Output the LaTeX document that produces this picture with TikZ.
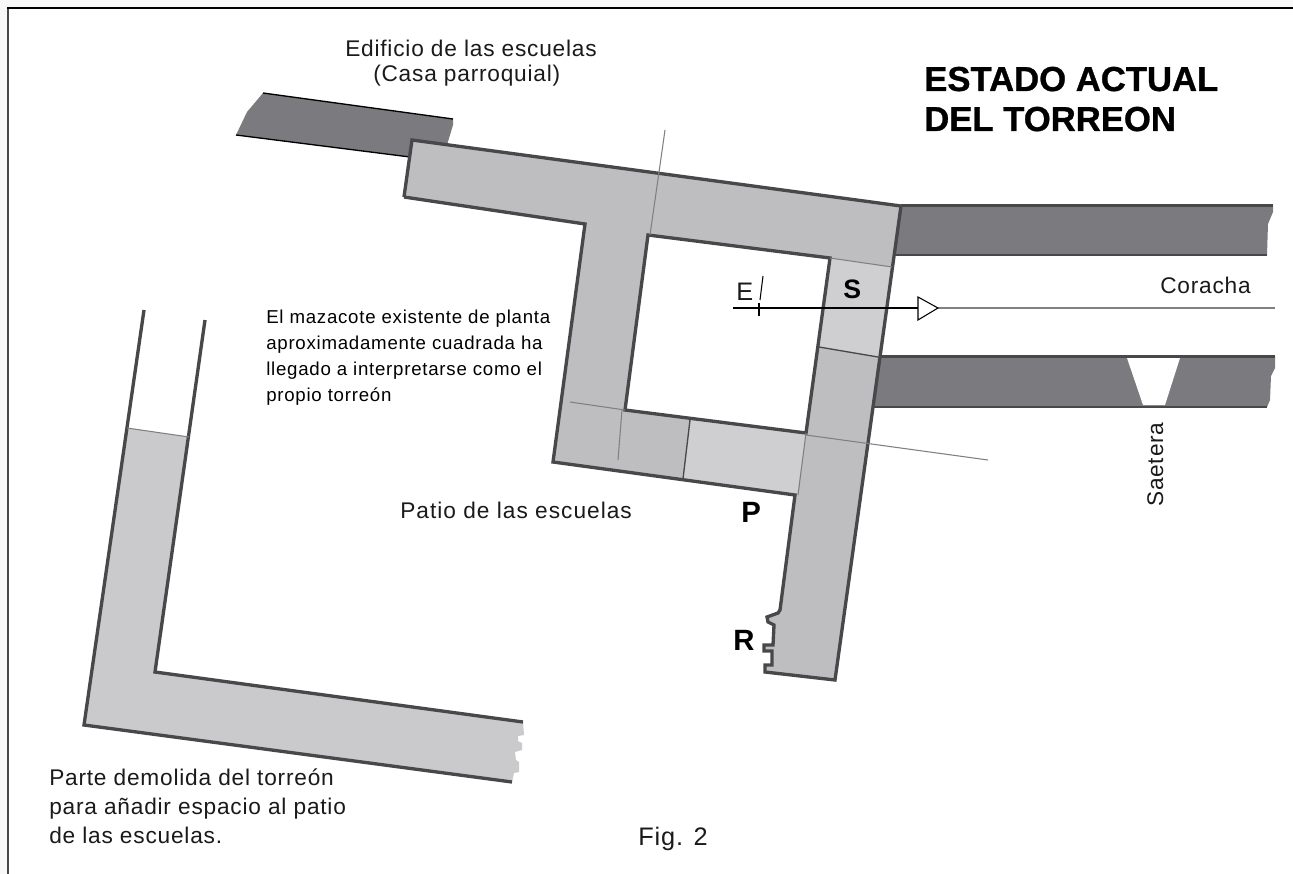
\documentclass[tikz,border=0pt]{standalone}
\usepackage{fontspec}
\setmainfont{Liberation Sans}
\newfontfamily\labelfont[LetterSpace=3.5]{Liberation Sans}
\newfontfamily\notefont[LetterSpace=4]{Liberation Sans}
\definecolor{wallgray}{HTML}{BEBEC1}
\definecolor{lightgray2}{HTML}{CFCFD1}
\definecolor{lgray}{HTML}{CACACC}
\definecolor{darkwall}{HTML}{7B7A7E}
\definecolor{edge}{HTML}{48484A}
\definecolor{thin}{HTML}{808082}
\definecolor{txt}{HTML}{1A1A1A}
\definecolor{margin}{HTML}{F8F8F8}
\tikzset{
  thick edge/.style={draw=edge,line width=2.5pt,line join=miter},
  thin rule/.style={draw=thin,line width=0.8pt},
  label text/.style={anchor=base west,inner sep=0pt,text=txt,font=\labelfont\fontsize{17}{21.75}\selectfont,align=left},
  small text/.style={anchor=base west,inner sep=0pt,text=black,font=\notefont\fontsize{14}{19.3}\selectfont,align=left},
  letter/.style={anchor=base west,inner sep=0pt,text=black,font=\bfseries\fontsize{20}{22}\selectfont},
}
\begin{document}
\begin{tikzpicture}[x=0.75pt,y=-0.75pt]
\useasboundingbox (0,0) rectangle (1293,874);
\fill[white] (0,0) rectangle (1293,874);
\fill[margin] (0,0) rectangle (1293,7);
\fill[margin] (0,0) rectangle (7,874);
% frame
\draw[draw=edge,line width=1.6pt] (8,874) -- (8,8);
\draw[draw=black,line width=1.3pt] (7,8) -- (1293,8);
% dark walls
\fill[darkwall] (263,93) -- (453,119) -- (453,125) -- (447,145) -- (410,157) -- (236,135) -- (247,112) -- cycle;
\draw[black,line width=1pt] (263,93) -- (453,119);
\draw[black,line width=1pt] (236,135) -- (410,157);
\fill[darkwall] (901,205) -- (1273,205) -- (1273,212) -- (1268,224) -- (1267,255) -- (895,255) -- cycle;
\draw[edge,line width=1.8pt] (901,205.5) -- (1273,205.5);
\draw[edge,line width=1.8pt] (895,255) -- (1267,255);
\fill[darkwall] (878,356) -- (1275,356) -- (1275,368) -- (1271,376) -- (1270,400) -- (1267,407) -- (872,407) -- cycle;
\fill[white] (1127,358) -- (1180,358) -- (1165,405) -- (1143,405) -- cycle;
\draw[edge,line width=1.8pt] (878,356.5) -- (1275,356.5);
\draw[edge,line width=1.8pt] (872,407) -- (1267,407);
% main masonry
\path[fill=wallgray,even odd rule]
  (412,140) -- (901,206) -- (835,680) -- (765,672) -- (765,665) -- (772,665) -- (772,651) -- (764,651) -- (764,645) -- (773,645) -- (774,625) -- (768,622) -- (767,617) -- (778,613) -- (780,610) -- (795,495) -- (553,462) -- (585,224) -- (404,197) -- cycle
  (648,235) -- (830,258) -- (806,433) -- (625,410) -- cycle;
\fill[lightgray2] (830,258) -- (892,267) -- (878,357) -- (819,347) -- cycle;
\fill[lightgray2] (690,420) -- (806,433) -- (797,495) -- (683,479) -- cycle;
% masonry outlines
\draw[thick edge] (404,197) -- (412,140) -- (901,206) -- (835,680) -- (765,672) -- (765,665) -- (772,665) -- (772,651) -- (764,651) -- (764,645) -- (773,645) -- (774,625) -- (768,622) -- (767,617) -- (778,613) -- (780,610) -- (795,495) -- (553,462) -- (585,224) -- (404,197);
\draw[thick edge] (648,235) -- (830,258) -- (806,433) -- (625,410) -- cycle;
% divisions
\draw[thin rule] (665,130) -- (650,235);
\draw[thin rule] (622,410) -- (618,460);
\draw[thin rule] (570,402) -- (625,410);
\draw[thin rule] (806,435) -- (988,460);
\draw[thin rule] (806,433) -- (798,495);
\draw[thin rule] (830,258) -- (892,267);
\draw[edge,line width=1pt] (819,347) -- (878,357);
\draw[edge,line width=1pt] (690,420) -- (683,479);
% left L
\fill[lgray] (127,428) -- (189,437) -- (155,672) -- (523,722) -- (524,735) -- (518,736) -- (518,741) -- (522,743) -- (522,750) -- (515,752) -- (516,760) -- (519,762) -- (519,772) -- (514,773) -- (512,782) -- (84,725) -- cycle;
\draw[thick edge] (144,310) -- (84,725) -- (512,782);
\draw[thick edge] (205,320) -- (155,672) -- (523,722);
\draw[thin rule] (127,428) -- (189,437);
% section line
\coordinate (secA) at (733,308);
\coordinate (secB) at (918,308);
\coordinate (secC) at (938,308);
\coordinate (secD) at (1275,308);
\draw[thin rule] (secC) -- (secD);
\draw[black,line width=1pt] (secA) -- (secB);
\draw[black,line width=0.8pt] (918,297) -- (918,320) -- (secC) -- cycle;
\draw[black,line width=0.8pt] (763,276) -- (760,300);
\draw[black,line width=0.8pt] (759,303) -- (759,316);
% texts
\node[label text,font=\labelfont\fontsize{17}{18.75}\selectfont] (edif) at (345,82) {Edificio de las escuelas\\\hspace*{21pt}(Casa parroquial)};
\node[anchor=base west,inner sep=0pt,font=\bfseries\addfontfeature{FakeBold=0.8}\fontsize{26}{30}\selectfont,align=left] (title) at (924,131) {ESTADO ACTUAL\\DEL TORREON};
\node[label text] (corach) at (1160,293) {Coracha};
\node[label text,rotate=90] (saet) at (1163,507) {Saetera};
\node[label text,font=\labelfont\addfontfeature{LetterSpace=4.5}\fontsize{17}{20}\selectfont] (patio) at (400,518) {Patio de las escuelas};
\node[small text] (maz) at (266,401) {El mazacote existente de planta\\aproximadamente cuadrada ha\\llegado a interpretarse como el\\propio torreón};
\node[label text] (parte) at (49,843) {Parte demolida del torreón\\para añadir espacio al patio\\de las escuelas.};
\node[anchor=base west,inner sep=0pt,text=txt,font=\labelfont\fontsize{19}{22}\selectfont] (fig) at (638,845) {Fig. 2};
\node[letter] (lS) at (843,298) {S};
\node[letter,font=\bfseries\fontsize{22}{24}\selectfont] (lP) at (741,522) {P};
\node[letter,font=\bfseries\fontsize{22}{24}\selectfont] (lR) at (733,650) {R};
\node[label text,font=\labelfont\fontsize{19}{22}\selectfont] (lE) at (736,300) {E};
\end{tikzpicture}
\end{document}
